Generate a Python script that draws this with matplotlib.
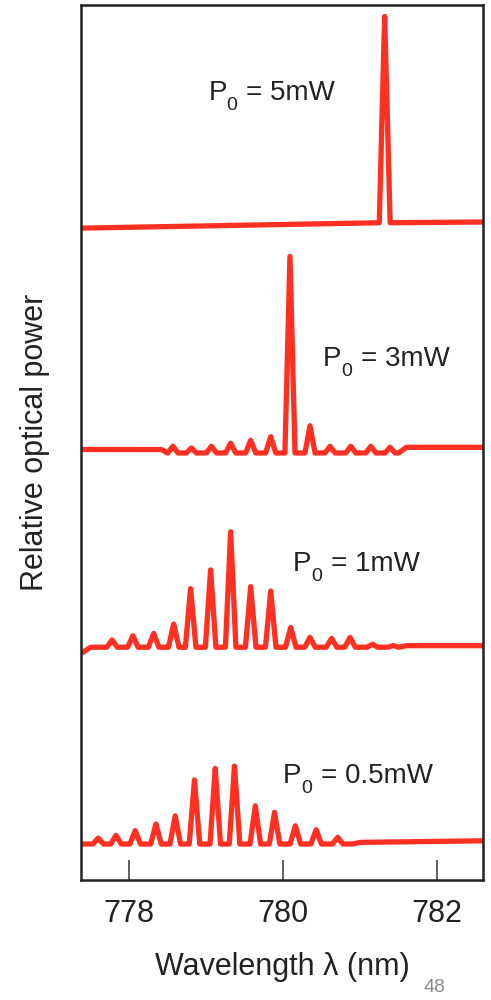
import numpy as np
import matplotlib
matplotlib.use("Agg")
import matplotlib.pyplot as plt

plt.rcParams["font.family"] = ["Liberation Sans", "DejaVu Sans"]

# ---- data -------------------------------------------------------------
wavelength_ticks = [778, 780, 782]
power_labels = ["5mW", "3mW", "1mW", "0.5mW"]

# P0 = 5 mW : single dominant mode
base_5_nm = [777.38, 781.15, 782.60]
base_5_lvl = [74.5, 75.1, 75.2]
peaks_5_nm = [781.32]
peaks_5_h = [23.7]

# P0 = 3 mW
base_3_nm = [777.38, 778.42, 778.50, 781.50, 781.60, 782.60]
base_3_lvl = [49.2, 49.2, 48.8, 48.8, 49.45, 49.45]
peaks_3_nm = [778.57, 778.81, 779.07, 779.32, 779.58, 779.84, 780.09,
              780.35, 780.61, 780.88, 781.14, 781.39]
peaks_3_h = [0.77, 0.58, 0.77, 1.12, 1.46, 1.88, 22.5,
             3.13, 0.77, 0.77, 0.77, 0.66]

# P0 = 1 mW
base_1_nm = [777.38, 777.50, 781.50, 781.60, 782.60]
base_1_lvl = [25.9, 26.6, 26.6, 26.78, 26.78]
peaks_1_nm = [777.78, 778.05, 778.32, 778.58, 778.80, 779.06, 779.32,
              779.58, 779.84, 780.10, 780.35, 780.63, 780.87, 781.16, 781.43]
peaks_1_h = [0.83, 1.32, 1.59, 2.66, 6.73, 8.86, 13.2,
             6.96, 6.46, 2.27, 1.13, 1.02, 1.13, 0.35, 0.2]

# P0 = 0.5 mW
base_05_nm = [777.38, 780.90, 781.00, 782.60]
base_05_lvl = [4.11, 4.11, 4.3, 4.48]
peaks_05_nm = [777.60, 777.83, 778.08, 778.35, 778.60, 778.85, 779.12,
               779.37, 779.64, 779.89, 780.16, 780.43, 780.71]
peaks_05_h = [0.69, 0.99, 1.53, 2.29, 3.24, 7.35, 8.65,
              8.95, 4.38, 3.62, 2.09, 1.64, 0.77]

traces = [
    (base_5_nm, base_5_lvl, peaks_5_nm, peaks_5_h, 0.07),
    (base_3_nm, base_3_lvl, peaks_3_nm, peaks_3_h, 0.065),
    (base_1_nm, base_1_lvl, peaks_1_nm, peaks_1_h, 0.068),
    (base_05_nm, base_05_lvl, peaks_05_nm, peaks_05_h, 0.068),
]

# label anchor (left edge of "P", baseline) for each trace, in data units
label_pos = [(779.03, 89.1), (780.52, 58.7), (780.13, 35.3), (780.00, 11.1)]

# ---- figure -----------------------------------------------------------
fig = plt.figure(figsize=(4.91, 10.0), dpi=100)
ax = fig.add_axes([81 / 491, 120 / 1000, 402 / 491, 875 / 1000])

xmin, xmax = 777.377, 782.597
lam = np.linspace(xmin, xmax, 6000)
red = "#ff3022"
ink = "#222222"

for (bx, by, px, ph, hw) in traces:
    spectrum = np.interp(lam, bx, by)
    for c, h in zip(px, ph):
        spectrum = spectrum + h * np.clip(1.0 - np.abs(lam - c) / hw, 0.0, None)
    ax.plot(lam, spectrum, color=red, lw=3.8, solid_joinstyle="round",
            solid_capstyle="round")

# "P" with a lowered subscript "0", then the power value
for (x, y), lab in zip(label_pos, power_labels):
    ax.annotate("P", xy=(x, y), xytext=(0, 0), textcoords="offset points",
                fontsize=20, ha="left", va="baseline", color=ink)
    ax.annotate("0", xy=(x, y), xytext=(13.0, -7.0), textcoords="offset points",
                fontsize=14, ha="left", va="baseline", color=ink)
    ax.annotate("= " + lab, xy=(x, y), xytext=(27.5, 0), textcoords="offset points",
                fontsize=20, ha="left", va="baseline", color=ink)

ax.set_xlim(xmin, xmax)
ax.set_ylim(0, 100)
ax.set_xticks(wavelength_ticks)
ax.set_xticklabels([str(t) for t in wavelength_ticks])
ax.set_yticks([])
ax.tick_params(axis="x", direction="in", length=14.4, width=1.1,
               colors="#333333", labelcolor=ink, labelsize=22, pad=14)
for s in ax.spines.values():
    s.set_linewidth(1.8)
    s.set_color(ink)

ax.set_xlabel("Wavelength λ (nm)", fontsize=22, color=ink, labelpad=16)
ax.set_ylabel("Relative optical power", fontsize=22, color=ink, labelpad=22)

# page number in the lower right corner
fig.text(434 / 491, 1 - 979 / 1000, "48", fontsize=14, color="#8a8a8a",
         ha="center", va="top")

fig.savefig("out.png", dpi=100)
